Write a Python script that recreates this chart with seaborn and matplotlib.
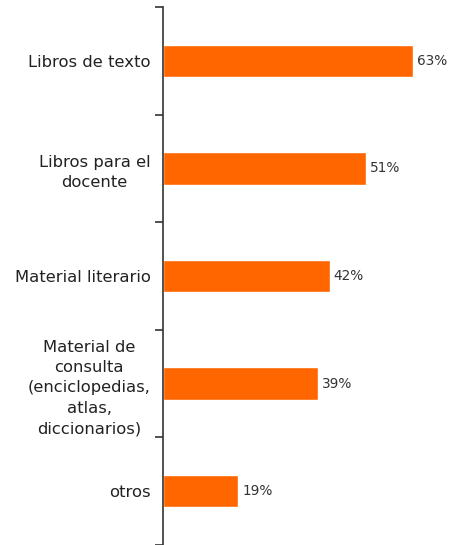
import numpy as np
import pandas as pd
import seaborn as sns
import matplotlib.pyplot as plt
from matplotlib.ticker import FixedLocator

categorias = ["Libros de texto", "Libros para el\ndocente", "Material literario",
              "Material de\nconsulta\n(enciclopedias,\natlas,\ndiccionarios)", "otros"]
porcentajes = [63, 51, 42, 39, 19]

df = pd.DataFrame({"categoria": categorias, "porcentaje": porcentajes})

sns.set_style("white")
plt.rcParams['font.family'] = ['DejaVu Sans']

fig = plt.figure(figsize=(4.51, 5.45), dpi=100)
ax = fig.add_axes([163 / 451, 0, 1 - 163 / 451, 1 - 7 / 545])

sns.barplot(data=df, x="porcentaje", y="categoria", color="#FF6600",
            saturation=1, width=0.3, ax=ax, orient="h")

ax.set_xlim(0, 72.5)
ax.set_ylim(len(categorias) - 0.5, -0.5)
ax.set_xlabel("")
ax.set_ylabel("")
ax.set_xticks([])

for s in ["top", "right", "bottom"]:
    ax.spines[s].set_visible(False)
ax.spines["left"].set_color("#333333")
ax.spines["left"].set_linewidth(1.2)

# marcas entre categorias
ax.yaxis.set_minor_locator(FixedLocator(np.arange(-0.5, len(categorias), 1)))
ax.tick_params(axis="y", which="minor", length=6, width=1.2, color="#333333",
               direction="out", left=True)
ax.tick_params(axis="y", which="major", length=0, pad=9, labelsize=11.8,
               labelcolor="#222222")
for lbl in ax.get_yticklabels():
    lbl.set_multialignment("center")
    lbl.set_linespacing(1.45)

for i, v in enumerate(porcentajes):
    ax.text(v + 1.0, i, f"{v}%", va="center", ha="left", fontsize=9.8,
            color="#333333")

fig.savefig("out.png", dpi=100)
